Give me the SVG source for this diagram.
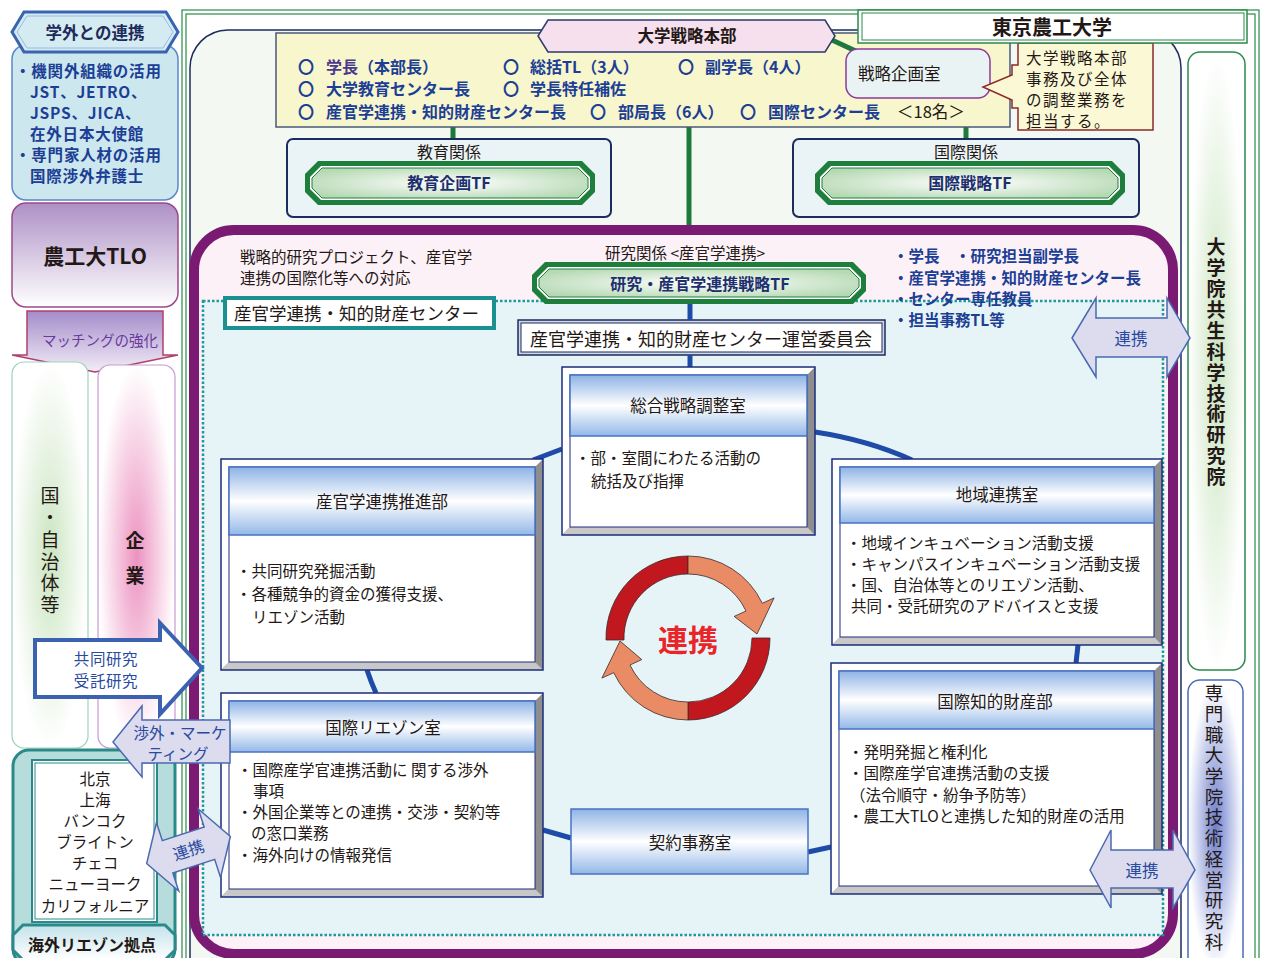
<svg xmlns="http://www.w3.org/2000/svg" width="1263" height="958" viewBox="0 0 1263 958">
<style>
.t{font-family:"Noto Sans CJK JP","Noto Sans",sans-serif}
.dk{fill:#231815}
.bl{fill:#1c3f95}
.nv{fill:#1e2f6e}
.b{font-weight:bold}
.c{text-anchor:middle}
.vt{writing-mode:vertical-rl}
.conn{fill:none;stroke:#1e4aa8;stroke-width:5}
.gl{stroke:#1e7a3c;stroke-width:5}
.hd{fill:url(#hdr);stroke:#4a72c4;stroke-width:1.5}
.fr{fill:none;stroke:#1d2c7a;stroke-width:1.5}
.in{fill:#fff;stroke:#1d2c7a;stroke-width:1}
.wb{fill:#fff}
.gb{fill:#c8c8c8}
.base{fill:#8e8e8e}
.tfo{fill:#1e7e3c}
.tfi{fill:url(#tfg);stroke:#1e7e3c;stroke-width:1}
.la{fill:#dcdcee;stroke:#4a6ab0;stroke-width:1.5}
.cy{stroke:#3a2a2a;stroke-width:0.8}
</style>
<defs>
<linearGradient id="hdr" x1="0" y1="0" x2="0" y2="1"><stop offset="0" stop-color="#8db3e5"/><stop offset="0.5" stop-color="#ffffff"/><stop offset="1" stop-color="#93b8e8"/></linearGradient>
<radialGradient id="tfg" cx="0.5" cy="0.5" r="0.6"><stop offset="0" stop-color="#ffffff"/><stop offset="1" stop-color="#b5d9b3"/></radialGradient>
<linearGradient id="tlo" x1="0" y1="0" x2="0" y2="1"><stop offset="0" stop-color="#ad90c5"/><stop offset="1" stop-color="#ffffff"/></linearGradient>
<linearGradient id="match" x1="0" y1="0" x2="0" y2="1"><stop offset="0" stop-color="#a48cca"/><stop offset="1" stop-color="#f3edf7"/></linearGradient>
<radialGradient id="grn" cx="0.5" cy="0.5" r="0.5"><stop offset="0" stop-color="#cbe5c1"/><stop offset="1" stop-color="#ffffff"/></radialGradient>
<radialGradient id="pnk" cx="0.5" cy="0.5" r="0.5"><stop offset="0" stop-color="#ec92c0"/><stop offset="1" stop-color="#ffffff"/></radialGradient>
<radialGradient id="blu" cx="0.5" cy="0.5" r="0.5"><stop offset="0" stop-color="#6d7ecb"/><stop offset="0.7" stop-color="#d2d8f1"/><stop offset="1" stop-color="#ffffff"/></radialGradient>
<linearGradient id="ovl" x1="0" y1="0" x2="0" y2="1"><stop offset="0" stop-color="#c3e2ea"/><stop offset="1" stop-color="#ffffff"/></linearGradient>
</defs>

<rect width="1263" height="958" fill="#ffffff"/>

<!-- outer frame -->
<g id="frame">
<rect x="182" y="10" width="1077" height="970" fill="none" stroke="#2a8a4a" stroke-width="1.2"/>
<rect x="186" y="14" width="1069" height="970" fill="none" stroke="#2a8a4a" stroke-width="1.2"/>
<rect x="190" y="30" width="991" height="1000" rx="38" fill="#f3f8f2" stroke="#1d2c5e" stroke-width="1.5"/>
</g>

<!-- connectors (green) -->
<g id="green-connectors">
<line class="gl" x1="453" y1="126" x2="453" y2="140"/>
<line class="gl" x1="966" y1="126" x2="966" y2="140"/>
<line class="gl" x1="689" y1="126" x2="689" y2="230"/>
</g>

<g id="honbu">
<rect x="276" y="33" width="734" height="94" fill="#f8f6cc" stroke="#4a5a7a" stroke-width="1.5"/>
<g class="t b bl" font-size="16">
<text x="298" y="73">〇</text><text x="326" y="73"><tspan fill="#4b3a8c">学長</tspan>（本部長）</text>
<text x="503" y="73">〇</text><text x="530" y="73">総括TL（3人）</text>
<text x="678" y="73">〇</text><text x="705" y="73">副学長（4人）</text>
<text x="298" y="95">〇</text><text x="326" y="95">大学教育センター長</text>
<text x="503" y="95">〇</text><text x="530" y="95">学長特任補佐</text>
<text x="298" y="118">〇</text><text x="326" y="118">産官学連携・知的財産センター長</text>
<text x="590" y="118">〇</text><text x="618" y="118">部局長（6人）</text>
<text x="740" y="118">〇</text><text x="768" y="118">国際センター長</text>
</g>
<text x="897" y="118" class="t dk" font-size="16.5">＜18名＞</text>
</g>

<line class="gl" x1="832" y1="40" x2="860" y2="53"/>

<g id="honbu-label">
<polygon points="548,20 825,20 835,36 825,52 548,52 538,36" fill="#f6e0ee" stroke="#2a3a6a" stroke-width="1.5"/>
<text x="687" y="42" class="t dk b c" font-size="16.5">大学戦略本部</text>
</g>

<g id="kikaku">
<rect x="846" y="49" width="144" height="49" rx="12" fill="#eaf3f3" stroke="#8a3a9a" stroke-width="1.5"/>
<text x="858" y="80" class="t dk" font-size="16.5">戦略企画室</text>
</g>

<g id="callout">
<polygon points="1018,43 1153,43 1153,130 1018,130 1018,108 1012,108 1012,100 983,87 1012,75 1012,65 1018,65" fill="#fbf8d6" stroke="#8a2a2a" stroke-width="1.5"/>
<g class="t dk" font-size="15.5" letter-spacing="1.5">
<text x="1026" y="64">大学戦略本部</text>
<text x="1026" y="85">事務及び全体</text>
<text x="1026" y="106">の調整業務を</text>
<text x="1026" y="127">担当する。</text>
</g>
</g>

<g id="tokyo">
<rect x="858" y="10" width="389" height="33" fill="#ffffff" stroke="#2a8a4a" stroke-width="1.5"/>
<rect x="862" y="13" width="382" height="27" fill="none" stroke="#2a8a4a" stroke-width="1"/>
<text x="1052" y="35" class="t dk b c" font-size="20">東京農工大学</text>
</g>

<g id="kyoiku">
<rect x="287" y="139" width="324" height="78" rx="6" fill="#eaf4f6" stroke="#1d2c5e" stroke-width="2"/>
<text x="449" y="158" class="t dk c" font-size="16">教育関係</text>
<polygon class="tfo" points="318,161 582,161 595,174 595,192 582,205 318,205 305,192 305,174"/>
<polygon class="wb" points="321,166 579,166 590,177 590,189 579,200 321,200 310,189 310,177"/>
<polygon class="tfi" points="322,168 578,168 588,178 588,188 578,198 322,198 312,188 312,178"/>
<text x="449" y="189" class="t nv b c" font-size="16">教育企画TF</text>
</g>

<g id="kokusai">
<rect x="793" y="139" width="346" height="78" rx="6" fill="#eaf4f6" stroke="#1d2c5e" stroke-width="2"/>
<text x="966" y="158" class="t dk c" font-size="16">国際関係</text>
<polygon class="tfo" points="828,161 1112,161 1125,174 1125,192 1112,205 828,205 815,192 815,174"/>
<polygon class="wb" points="831,166 1109,166 1120,177 1120,189 1109,200 831,200 820,189 820,177"/>
<polygon class="tfi" points="832,168 1108,168 1118,178 1118,188 1108,198 832,198 822,188 822,178"/>
<text x="970" y="189" class="t nv b c" font-size="16">国際戦略TF</text>
</g>

<!-- purple research frame -->
<g id="research">
<rect x="194" y="230" width="979" height="724" rx="40" fill="#fcf1f7" stroke="#7a1a72" stroke-width="10"/>
<rect x="203" y="301" width="960" height="634" fill="#e7f4f7" stroke="#1a9a9a" stroke-width="2.5" stroke-dasharray="2.5 2"/>
<g class="t dk" font-size="15.5">
<text x="240" y="263">戦略的研究プロジェクト、産官学</text>
<text x="240" y="284">連携の国際化等への対応</text>
<text x="685" y="259" class="c">研究関係 &lt;産官学連携&gt;</text>
</g>
<g class="t bl b" font-size="15.5">
<text x="893" y="262">・学長　・研究担当副学長</text>
<text x="893" y="284">・産官学連携・知的財産センター長</text>
<text x="893" y="305">・センター専任教員</text>
<text x="893" y="326">・担当事務TL等</text>
</g>
</g>

<g id="research-tf">
<polygon class="tfo" points="545,262 853,262 866,275 866,291 853,304 545,304 532,291 532,275"/>
<polygon class="wb" points="548,267 850,267 861,278 861,288 850,299 548,299 537,288 537,278"/>
<polygon class="tfi" points="549,269 849,269 859,279 859,287 849,297 549,297 539,287 539,279"/>
<text x="700" y="290" class="t nv b c" font-size="16">研究・産官学連携戦略TF</text>
</g>

<g id="center-label">
<rect x="225" y="298" width="269" height="30" fill="#ffffff" stroke="#1a9090" stroke-width="4"/>
<text x="234" y="320" class="t dk" font-size="17.5">産官学連携・知的財産センター</text>
</g>

<g id="committee">
<rect x="518" y="320" width="367" height="35" fill="#cfd6e6" stroke="#1d2c5e" stroke-width="1.5"/>
<rect x="521" y="323" width="361" height="29" fill="#ffffff" stroke="#1d2c5e" stroke-width="1"/>
<text x="701" y="346" class="t dk c" font-size="18">産官学連携・知的財産センター運営委員会</text>
</g>

<!-- blue connectors -->
<g id="connectors">
<path class="conn" d="M690,304 L690,320"/>
<path class="conn" d="M690,355 L690,367"/>
<path class="conn" d="M533,460 L562,449"/>
<path class="conn" d="M815,432 Q868,440 912,460"/>
<path class="conn" d="M1078,645 L1076,663"/>
<path class="conn" d="M367,670 Q371,682 376,693"/>
<path class="conn" d="M543,830 L571,838"/>
<path class="conn" d="M808,852 L831,847"/>
</g>

<g id="sogo">
<rect class="base" x="562" y="367" width="253" height="168"/>
<polygon class="wb" points="562,367 815,367 807,375 570,375 570,527 562,535"/>
<polygon class="gb" points="562,535 570,527 807,527 815,535"/>
<rect class="in" x="570" y="375" width="237" height="152"/>
<rect class="hd" x="570" y="375" width="237" height="61"/>
<rect class="fr" x="562" y="367" width="253" height="168"/>
<text x="688" y="412" class="t dk c" font-size="16.5">総合戦略調整室</text>
<g class="t dk" font-size="15.5">
<text x="575" y="464">・部・室間にわたる活動の</text>
<text x="591" y="487">統括及び指揮</text>
</g>
</g>

<g id="suishin">
<rect class="base" x="221" y="459" width="322" height="211"/>
<polygon class="wb" points="221,459 543,459 535,467 229,467 229,662 221,670"/>
<polygon class="gb" points="221,670 229,662 535,662 543,670"/>
<rect class="in" x="229" y="467" width="306" height="195"/>
<rect class="hd" x="229" y="467" width="306" height="68"/>
<rect class="fr" x="221" y="459" width="322" height="211"/>
<text x="382" y="508" class="t dk c" font-size="16.5">産官学連携推進部</text>
<g class="t dk" font-size="15.5">
<text x="236" y="577">・共同研究発掘活動</text>
<text x="236" y="600">・各種競争的資金の獲得支援、</text>
<text x="252" y="623">リエゾン活動</text>
</g>
</g>

<g id="chiiki">
<rect class="base" x="832" y="459" width="330" height="186"/>
<polygon class="wb" points="832,459 1162,459 1154,467 840,467 840,637 832,645"/>
<polygon class="gb" points="832,645 840,637 1154,637 1162,645"/>
<rect class="in" x="840" y="467" width="314" height="170"/>
<rect class="hd" x="840" y="467" width="314" height="56"/>
<rect class="fr" x="832" y="459" width="330" height="186"/>
<text x="997" y="501" class="t dk c" font-size="16.5">地域連携室</text>
<g class="t dk" font-size="15.5">
<text x="846" y="549">・地域インキュベーション活動支援</text>
<text x="846" y="570">・キャンパスインキュベーション活動支援</text>
<text x="846" y="591">・国、自治体等とのリエゾン活動、</text>
<text x="851" y="612">共同・受託研究のアドバイスと支援</text>
</g>
</g>

<g id="liaison">
<rect class="base" x="221" y="693" width="322" height="204"/>
<polygon class="wb" points="221,693 543,693 535,701 229,701 229,889 221,897"/>
<polygon class="gb" points="221,897 229,889 535,889 543,897"/>
<rect class="in" x="229" y="701" width="306" height="188"/>
<rect class="hd" x="229" y="701" width="306" height="51"/>
<rect class="fr" x="221" y="693" width="322" height="204"/>
<text x="383" y="734" class="t dk c" font-size="16.5">国際リエゾン室</text>
<g class="t dk" font-size="15.5">
<text x="237" y="776">・国際産学官連携活動に 関する渉外</text>
<text x="253" y="797">事項</text>
<text x="237" y="818">・外国企業等との連携・交渉・契約等</text>
<text x="251" y="839">の窓口業務</text>
<text x="237" y="861">・海外向けの情報発信</text>
</g>
</g>

<g id="chizai">
<rect class="base" x="831" y="663" width="331" height="231"/>
<polygon class="wb" points="831,663 1162,663 1154,671 839,671 839,886 831,894"/>
<polygon class="gb" points="831,894 839,886 1154,886 1162,894"/>
<rect class="in" x="839" y="671" width="315" height="215"/>
<rect class="hd" x="839" y="671" width="315" height="58"/>
<rect class="fr" x="831" y="663" width="331" height="231"/>
<text x="995" y="708" class="t dk c" font-size="16.5">国際知的財産部</text>
<g class="t dk" font-size="15.5">
<text x="848" y="758">・発明発掘と権利化</text>
<text x="848" y="779">・国際産学官連携活動の支援</text>
<text x="850" y="801">（法令順守・紛争予防等）</text>
<text x="848" y="822">・農工大TLOと連携した知的財産の活用</text>
</g>
</g>

<g id="keiyaku">
<rect class="hd" x="571" y="809" width="237" height="65"/>
<text x="690" y="849" class="t dk c" font-size="16.5">契約事務室</text>
</g>

<!-- cycle -->
<g id="cycle">
<path class="cy" fill="#c0181e" d="M606,640 A82,82 0 0 1 688,556 L688,574 A64,64 0 0 0 624,640 Z"/>
<path class="cy" fill="#e98c66" d="M688,556 A82,82 0 0 1 762.3,603.3 L774.1,597.9 L757,634 L734.2,616.4 L746,611 A64,64 0 0 0 688,574 Z"/>
<path class="cy" fill="#c0181e" d="M770,638 A82,82 0 0 1 688,720 L688,702 A64,64 0 0 0 752,638 Z"/>
<path class="cy" fill="#e98c66" d="M688,720 A82,82 0 0 1 613.7,672.7 L601.9,678.1 L620,641 L641.8,659.6 L630,665 A64,64 0 0 0 688,702 Z"/>
<text x="688" y="651" class="t b c" font-size="30" fill="#e8262a">連携</text>
</g>

<!-- right column -->
<g id="kyosei">
<rect x="1188" y="52" width="57" height="618" rx="12" fill="url(#grn)" stroke="#2a8a4a" stroke-width="1.5"/>
<text x="1216" y="237.5" class="t dk b vt" font-size="19" letter-spacing="1.9">大学院共生科学技術研究院</text>
</g>
<g id="mot">
<rect x="1188" y="680" width="55" height="290" rx="12" fill="url(#blu)" stroke="#4a6ab8" stroke-width="1.5"/>
<text x="1214" y="684" class="t dk vt" font-size="18.5" letter-spacing="2.2">専門職大学院技術経営研究科</text>
</g>

<g id="renkei-right">
<polygon class="la" points="1072,338 1096,298 1096,318 1167,318 1167,298 1190,338 1167,377 1167,357 1096,357 1096,377"/>
<text x="1131" y="345" class="t c" font-size="16.5" fill="#2a4aa0">連携</text>
<polygon class="la" points="1090,870 1111,830 1111,850 1173,850 1173,830 1195,870 1173,908 1173,888 1111,888 1111,908"/>
<text x="1142" y="877" class="t c" font-size="16.5" fill="#2a4aa0">連携</text>
</g>

<!-- left column -->
<g id="gakugai">
<rect x="12" y="45" width="166" height="155" rx="14" fill="#cde7ee" stroke="#5a88c8" stroke-width="1.5"/>
<polygon points="24,12 166,12 178,32 166,52 24,52 12,32" fill="#d4ebf1" stroke="#3a64b0" stroke-width="3"/>
<polygon points="27,16 163,16 173,32 163,48 27,48 17,32" fill="none" stroke="#9ab8e4" stroke-width="1"/>
<text x="95" y="39" class="t b c" font-size="16.5" fill="#1e2a5a">学外との連携</text>
<g class="t bl b" font-size="15.5" letter-spacing="0.8">
<text x="15" y="77">・機関外組織の活用</text>
<text x="30" y="98">JST、JETRO、</text>
<text x="30" y="119">JSPS、JICA、</text>
<text x="30" y="140">在外日本大使館</text>
<text x="15" y="161">・専門家人材の活用</text>
<text x="30" y="182">国際渉外弁護士</text>
</g>
</g>

<g id="tlo">
<rect x="12" y="203" width="166" height="104" rx="14" fill="url(#tlo)" stroke="#9a4a8a" stroke-width="1.5"/>
<text x="95" y="264" class="t dk b c" font-size="21">農工大TLO</text>
</g>

<g id="matching">
<polygon points="27,311 163,311 163,355 178,355 95,372 12,355 27,355" fill="url(#match)" stroke="#b0406a" stroke-width="1.5"/>
<text x="100" y="346" class="t c" font-size="14.5" fill="#6a3a9a">マッチングの強化</text>
</g>

<g id="kuni">
<rect x="12" y="362" width="76" height="386" rx="12" fill="url(#grn)" stroke="#9ed4bc" stroke-width="1.2"/>
<text x="50" y="486.5" class="t dk vt" font-size="19" letter-spacing="2.8">国・自治体等</text>
</g>
<g id="kigyo">
<rect x="98" y="365" width="77" height="383" rx="12" fill="url(#pnk)" stroke="#c79ad2" stroke-width="1.2"/>
<text x="135" y="531.5" class="t dk b vt" font-size="19" letter-spacing="16">企業</text>
</g>

<g id="kaigai">
<rect x="13" y="750" width="162" height="215" rx="16" fill="#b6dcdc" stroke="#2a8a8a" stroke-width="3"/>
<rect x="32" y="760" width="125" height="162" fill="#ffffff" stroke="#2a8a8a" stroke-width="2"/>
<rect x="35" y="763" width="119" height="156" fill="none" stroke="#2a8a8a" stroke-width="1"/>
<g class="t dk c" font-size="15.5">
<text x="95" y="785">北京</text>
<text x="95" y="806">上海</text>
<text x="95" y="827">バンコク</text>
<text x="95" y="848">ブライトン</text>
<text x="95" y="869">チェコ</text>
<text x="95" y="890">ニューヨーク</text>
<text x="95" y="912">カリフォルニア</text>
</g>
<polygon points="23,925 165,925 175,935 175,950 165,960 23,960 13,950 13,935" fill="url(#ovl)" stroke="#2a8a8a" stroke-width="3"/>
<text x="92" y="951" class="t dk b c" font-size="16">海外リエゾン拠点</text>
</g>

<!-- left arrows -->
<g id="arrows-left">
<polygon points="35,640 160,640 160,623 202,668 160,714 160,697 35,697" fill="#ffffff" stroke="#3a62b0" stroke-width="4" stroke-linejoin="miter"/>
<text x="106" y="665" class="t c" font-size="15.5" letter-spacing="0.6" fill="#2a4aa0">共同研究</text>
<text x="106" y="687" class="t c" font-size="15.5" letter-spacing="0.6" fill="#2a4aa0">受託研究</text>
<polygon class="la" points="230,720 142,720 142,706 113,742 142,777 142,763 230,763"/>
<text x="180" y="739" class="t c" font-size="15.5" fill="#2a4aa0">渉外・マーケ</text>
<text x="178" y="760" class="t c" font-size="15.5" fill="#2a4aa0">ティング</text>
<g transform="translate(188.5,850) rotate(-18)">
<polygon class="la" points="-44,0 -22,-36 -22,-17 22,-17 22,-36 44,0 22,36 22,17 -22,17 -22,36"/>
<text x="0" y="6" class="t c" font-size="16" fill="#2a4aa0">連携</text>
</g>
</g>
</svg>
